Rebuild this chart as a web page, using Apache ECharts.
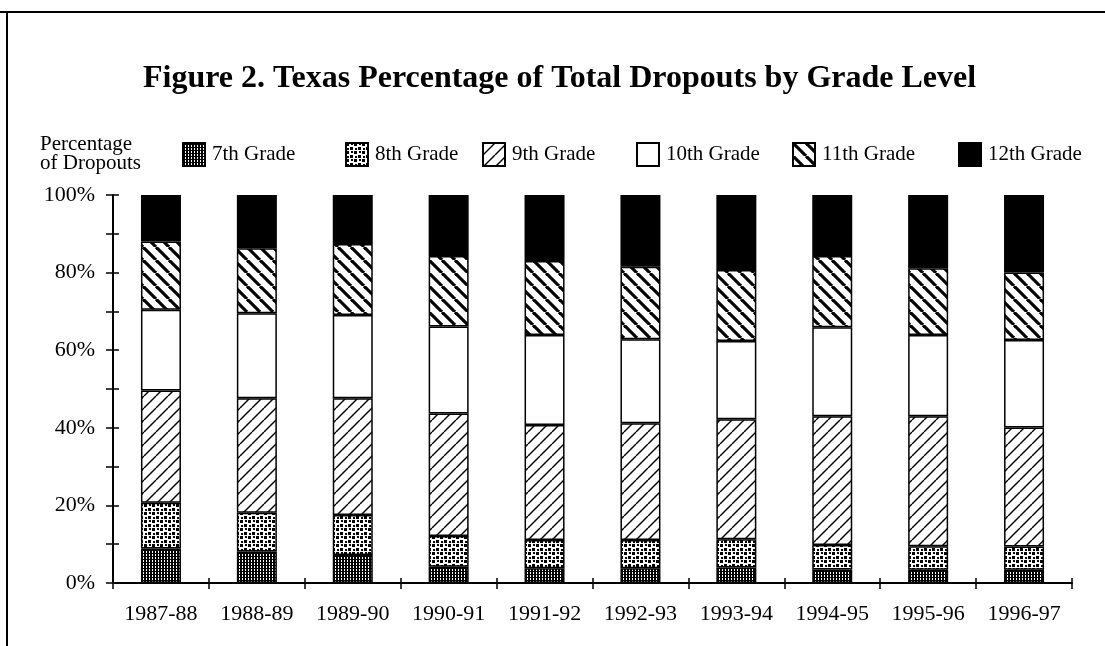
<!DOCTYPE html>
<html>
<head>
<meta charset="utf-8">
<script src="https://cdn.jsdelivr.net/npm/echarts@6/dist/echarts.min.js"></script>
<style>
  html, body { margin: 0; padding: 0; background: #fff; }
  #chart { width: 1105px; height: 646px; }
</style>
</head>
<body>
<div id="chart"></div>
<script>
// 数据
var years = ['1987-88', '1988-89', '1989-90', '1990-91', '1991-92', '1992-93', '1993-94', '1994-95', '1995-96', '1996-97'];
var grades = ['7th Grade', '8th Grade', '9th Grade', '10th Grade', '11th Grade', '12th Grade'];
var grade7 = [8.9, 8.1, 7.2, 4.2, 3.8, 3.8, 4.0, 3.5, 3.4, 3.4];
var grade8 = [11.8, 10.0, 10.3, 7.9, 7.3, 7.3, 7.3, 6.3, 6.1, 6.0];
var grade9 = [28.9, 29.5, 30.1, 31.6, 29.6, 30.1, 30.9, 33.2, 33.5, 30.7];
var grade10 = [20.8, 21.9, 21.5, 22.4, 23.2, 21.6, 20.2, 22.9, 20.9, 22.5];
var grade11 = [17.6, 16.8, 18.3, 18.2, 19.1, 18.7, 18.3, 18.4, 17.2, 17.4];
var grade12 = [12.0, 13.7, 12.6, 15.7, 17.0, 18.5, 19.3, 15.7, 18.9, 20.0];

(function() {
  var myChart = echarts.init(document.getElementById('chart'));
  var font = '"Liberation Serif", "Times New Roman", serif';

  // 生成填充图案
  function pattern(size, draw) {
    var c = document.createElement('canvas');
    c.width = size; c.height = size;
    var g = c.getContext('2d');
    g.fillStyle = '#fff';
    g.fillRect(0, 0, size, size);
    g.fillStyle = '#000';
    g.strokeStyle = '#000';
    draw(g, size);
    return { image: c, repeat: 'repeat' };
  }
  function diag(g, s, w, back) {
    g.lineWidth = w;
    for (var k = -1; k <= 1; k++) {
      g.beginPath();
      if (back) {
        g.moveTo(k * s, 0); g.lineTo(k * s + s, s);
      } else {
        g.moveTo(k * s, s); g.lineTo(k * s + s, 0);
      }
      g.stroke();
    }
  }
  var fills = [
    pattern(3, function(g) { // 7th 密点
      g.fillRect(0, 0, 2, 3);
      g.fillRect(2, 1, 1, 1);
    }),
    pattern(8, function(g) { // 8th 斑块
      g.fillRect(0, 0, 3, 3); g.fillRect(4, 4, 3, 3);
      g.fillRect(5, 0, 2, 2); g.fillRect(1, 5, 2, 2);
    }),
    pattern(12, function(g, s) { diag(g, s, 1.4, false); }), // 9th 细斜线
    '#fff', // 10th 空白
    pattern(13, function(g, s) { diag(g, s, 3.2, true); }), // 11th 粗反斜线
    '#000' // 12th 黑色
  ];
  var datas = [grade7, grade8, grade9, grade10, grade11, grade12];
  var legendLeft = [182, 345, 482, 636, 792, 958];

  var series = grades.map(function(name, i) {
    return {
      name: name,
      type: 'bar',
      stack: 'total',
      barWidth: 40,
      data: datas[i],
      itemStyle: {
        color: fills[i],
        borderColor: '#000',
        borderWidth: 1.5
      }
    };
  });

  var legends = grades.map(function(name, i) {
    return {
      data: [name],
      left: legendLeft[i],
      top: 142,
      padding: 0,
      itemWidth: 22,
      itemHeight: 23,
      icon: 'rect',
      textStyle: { fontFamily: font, fontSize: 21, color: '#000', padding: [0, 0, 0, 2] }
    };
  });

  var option = {
    animation: false,
    backgroundColor: '#fff',
    title: {
      text: 'Figure 2. Texas Percentage of Total Dropouts by Grade Level',
      left: 143,
      top: 63,
      padding: 0,
      textStyle: { fontFamily: font, fontSize: 32, fontWeight: 'bold', color: '#000' }
    },
    legend: legends,
    grid: { left: 113, right: 33, top: 195, bottom: 63 },
    xAxis: [
      {
        type: 'category',
        data: years,
        axisLine: { lineStyle: { color: '#000', width: 2 } },
        axisTick: { show: true, length: 6, lineStyle: { color: '#000', width: 1.5 } },
        axisLabel: { fontFamily: font, fontSize: 22, color: '#000', margin: 20 }
      },
      {
        type: 'category',
        data: years,
        position: 'bottom',
        axisLine: { show: false },
        axisTick: { show: true, inside: true, length: 5, lineStyle: { color: '#000', width: 1.5 } },
        axisLabel: { show: false }
      }
    ],
    yAxis: [
      {
        type: 'value',
        min: 0,
        max: 100,
        interval: 10,
        axisLine: { show: true, lineStyle: { color: '#000', width: 2 } },
        axisTick: { show: true, length: 7, lineStyle: { color: '#000', width: 1.5 } },
        splitLine: { show: false },
        axisLabel: {
          fontFamily: font, fontSize: 22, color: '#000', margin: 18,
          formatter: function(v) { return v % 20 === 0 ? v + '%' : ''; }
        }
      },
      {
        type: 'value',
        min: 0,
        max: 100,
        interval: 10,
        position: 'left',
        axisLine: { show: false },
        axisTick: { show: true, inside: true, length: 6, lineStyle: { color: '#000', width: 1.5 } },
        splitLine: { show: false },
        axisLabel: { show: false }
      }
    ],
    series: series,
    graphic: [
      { type: 'rect', shape: { x: 0, y: 11, width: 1105, height: 2 }, style: { fill: '#000' } },
      { type: 'rect', shape: { x: 6, y: 11, width: 2, height: 635 }, style: { fill: '#000' } },
      {
        type: 'text', left: 40, top: 134,
        style: { text: 'Percentage\nof Dropouts', fontFamily: font, fontSize: 21, lineHeight: 19, fill: '#000' }
      }
    ]
  };
  myChart.setOption(option);
})();
</script>
</body>
</html>
